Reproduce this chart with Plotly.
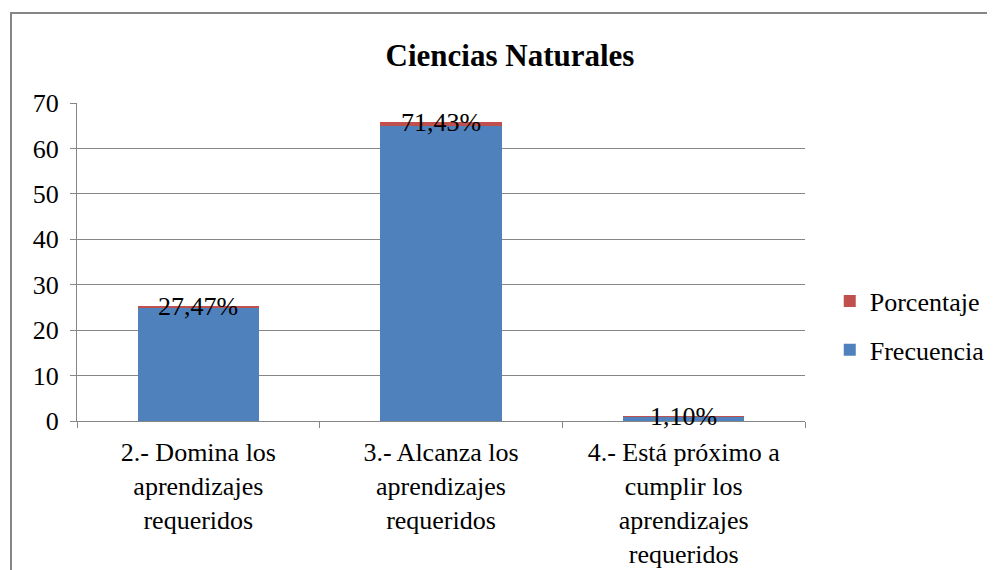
import plotly.graph_objects as go

# Datos
categorias = [
    "2.- Domina los<br>aprendizajes<br>requeridos",
    "3.- Alcanza los<br>aprendizajes<br>requeridos",
    "4.- Está próximo a<br>cumplir los<br>aprendizajes<br>requeridos",
]
frecuencia = [25, 65, 1]
porcentaje = [0.2747, 0.7143, 0.0110]
etiquetas = ["27,47%", "71,43%", "1,10%"]

AZUL = "#4F81BD"
ROJO = "#C0504D"
GRIS = "#868686"
FUENTE = "Liberation Serif"

# la página añade 8 px de margen al body
W, H = 987, 562
ML, MT, PW, PH = 69, 95, 728, 318

fig = go.Figure()
fig.add_trace(go.Bar(
    x=categorias, y=frecuencia, name="Frecuencia",
    legendgroup="f", legendrank=2,
    marker=dict(color=AZUL, line=dict(width=0)),
))
fig.add_trace(go.Bar(
    x=categorias, y=porcentaje, name="Porcentaje",
    legendgroup="p", legendrank=1,
    marker=dict(color=ROJO, line=dict(width=0)),
))

# Etiquetas de porcentaje en el tope de cada barra
for cat, f, p, txt in zip(categorias, frecuencia, porcentaje, etiquetas):
    fig.add_annotation(
        x=cat, y=f + p, text=txt, showarrow=False,
        xanchor="center", yanchor="middle",
        font=dict(family=FUENTE, size=26, color="black"),
    )

# Marco exterior del gráfico
fig.add_shape(
    type="rect", xref="paper", yref="paper",
    x0=(3 - ML) / PW, x1=1.5, y0=-1.0, y1=1 + (MT - 5) / PH,
    line=dict(color=GRIS, width=2), fillcolor="rgba(0,0,0,0)", layer="below",
)

fig.update_layout(
    width=W, height=H,
    margin=dict(l=ML, r=W - ML - PW, t=MT, b=H - MT - PH, autoexpand=False),
    paper_bgcolor="white", plot_bgcolor="white",
    barmode="stack", bargap=0.5,
    font=dict(family=FUENTE, size=26, color="black"),
    title=dict(
        text="<b>Ciencias Naturales</b>", xref="container", x=502 / W,
        xanchor="center", y=1 - 47 / H, yanchor="middle",
        font=dict(family=FUENTE, size=31, color="black"),
    ),
    legend=dict(
        x=1.034, y=0.30, xanchor="left", yanchor="middle",
        traceorder="grouped", tracegroupgap=12,
        font=dict(family=FUENTE, size=26, color="black"),
    ),
    showlegend=True,
)
fig.update_yaxes(
    range=[0, 70], dtick=10, showgrid=True, gridcolor=GRIS, gridwidth=1,
    showline=True, linecolor=GRIS, linewidth=1,
    ticks="outside", ticklen=6, tickcolor=GRIS, zeroline=False,
    ticklabelstandoff=6,
    tickfont=dict(family=FUENTE, size=26, color="black"),
)
fig.update_xaxes(
    showline=True, linecolor=GRIS, linewidth=1,
    ticks="outside", ticklen=6, tickcolor=GRIS, tickson="boundaries",
    ticklabelstandoff=8,
    tickfont=dict(family=FUENTE, size=26, color="black"),
)

fig.write_html("out.html")
